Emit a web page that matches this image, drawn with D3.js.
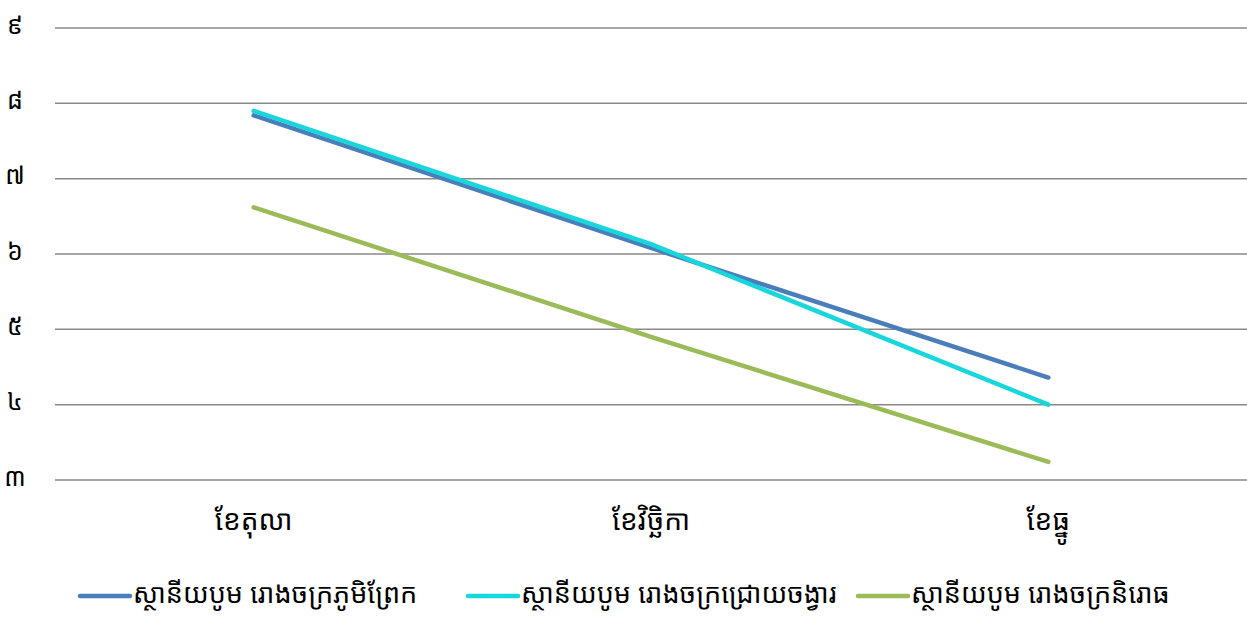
<!DOCTYPE html>
<html><head><meta charset="utf-8">
<script src="https://cdn.jsdelivr.net/npm/d3@7"></script>
<style>
body{margin:0;background:#fff;}
svg{display:block;}
text{font-family:"Khmer OS System","Khmer OS","Noto Sans Khmer","Noto Sans","DejaVu Sans",sans-serif;fill:#000;}
</style></head><body>
<svg id="c" width="1247" height="619"></svg>
<script>
const categories = ["ខែតុលា", "ខែវិច្ឆិកា", "ខែធ្នូ"];
const seriesNames = ["ស្ថានីយបូម រោងចក្រភូមិព្រែក", "ស្ថានីយបូម រោងចក្រជ្រោយចង្វារ", "ស្ថានីយបូម រោងចក្រនិរោធ"];
const seriesBlue = [7.84, 6.08, 4.36];
const seriesCyan = [7.90, 6.13, 4.00];
const seriesGreen = [6.62, 4.90, 3.24];
const yTicks = [3, 4, 5, 6, 7, 8, 9];
const khmerDigits = ["០","១","២","៣","៤","៥","៦","៧","៨","៩"];

(function () {
const colors = ["#4a7ebb", "#17d6dc", "#9bbb59"];
const series = [seriesBlue, seriesCyan, seriesGreen];

const svg = d3.select("#c");
const mLeft = 55, mRight = 1247, mTop = 28, mBottom = 480;
const x = d3.scaleBand().domain(categories).range([mLeft, mRight]);
const y = d3.scaleLinear().domain([3, 9]).range([mBottom, mTop]);

const toKhmer = n => String(n).split("").map(c => khmerDigits[+c] ?? c).join("");

svg.append("g").selectAll("line").data(yTicks).join("line")
  .attr("x1", mLeft).attr("x2", mRight)
  .attr("y1", d => y(d)).attr("y2", d => y(d))
  .attr("stroke", "#898989").attr("stroke-width", 1.5);

svg.append("g").selectAll("text").data(yTicks).join("text")
  .attr("x", 15).attr("y", d => y(d) - 3).attr("dy", "0.35em")
  .attr("text-anchor", "middle").attr("font-size", 25)
  .text(d => toKhmer(d));

svg.append("g").selectAll("text").data(categories).join("text")
  .attr("x", d => x(d) + x.bandwidth() / 2).attr("y", 530)
  .attr("text-anchor", "middle").attr("font-size", 28)
  .text(d => d);

const line = d3.line().x((d, i) => x(categories[i]) + x.bandwidth() / 2).y(d => y(d));
svg.append("g").selectAll("path").data(series).join("path")
  .attr("d", d => line(d)).attr("fill", "none")
  .attr("stroke", (d, i) => colors[i]).attr("stroke-width", 4.5)
  .attr("stroke-linecap", "round").attr("stroke-linejoin", "round");

const legX = [80, 468, 858];
const lg = svg.append("g").selectAll("g").data(seriesNames).join("g")
  .attr("transform", (d, i) => `translate(${legX[i]},596)`);
lg.append("line").attr("x1", 0).attr("x2", 50).attr("y1", 0).attr("y2", 0)
  .attr("stroke", (d, i) => colors[i]).attr("stroke-width", 4.5).attr("stroke-linecap", "round");
lg.append("text").attr("x", 53).attr("y", -2).attr("dy", "0.35em")
  .attr("font-size", 27).text(d => d);
})();
</script>
</body></html>
